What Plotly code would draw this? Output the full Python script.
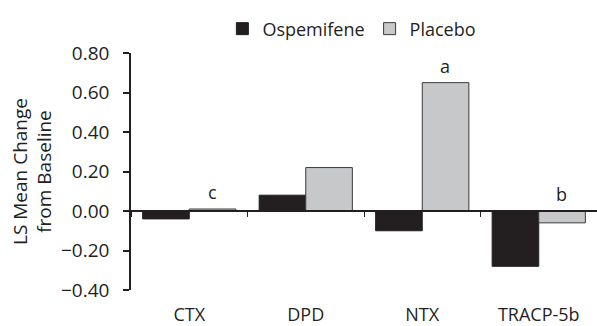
import plotly.graph_objects as go

categories = ["CTX", "DPD", "NTX", "TRACP-5b"]
ospemifene = [-0.04, 0.08, -0.10, -0.28]
placebo = [0.01, 0.22, 0.65, -0.06]
sig_labels = ["c", "", "a", "b"]
y_ticks = [-0.4, -0.2, 0.0, 0.2, 0.4, 0.6, 0.8]

FONT = "Open Sans"
INK = "#231f20"

fig = go.Figure()
fig.add_trace(go.Bar(x=categories, y=ospemifene, name="Ospemifene",
                     marker=dict(color=INK, line=dict(color=INK, width=1))))
fig.add_trace(go.Bar(x=categories, y=placebo, name="Placebo",
                     marker=dict(color="#c7c8ca", line=dict(color="#3a3a3a", width=1))))

for cat, lab, v in zip(categories, sig_labels, placebo):
    if lab:
        fig.add_annotation(x=cat, y=max(v, 0), text=lab, showarrow=False,
                           xshift=23, yanchor="bottom", yshift=3,
                           font=dict(family=FONT, size=18, color=INK))

fig.update_layout(
    width=597, height=326,
    margin=dict(l=131, r=0, t=53, b=36, autoexpand=False),
    paper_bgcolor="white", plot_bgcolor="white",
    barmode="group", bargap=0.2, bargroupgap=0,
    font=dict(family=FONT, size=18, color=INK),
    showlegend=True,
    legend=dict(orientation="h", x=0.474, xanchor="center", xref="paper",
                y=0.968, yanchor="top", yref="container",
                font=dict(family=FONT, size=18), itemwidth=30,
                traceorder="normal"),
)

fig.update_yaxes(range=[-0.4, 0.8], tickvals=y_ticks, tickformat=".2f",
                 showline=True, linecolor=INK, linewidth=1.5,
                 ticks="outside", ticklen=6, tickcolor=INK, tickwidth=1.5,
                 ticklabelstandoff=10, automargin=False,
                 showgrid=False, zeroline=False,
                 title=dict(text="LS Mean Change<br>from Baseline",
                            font=dict(family=FONT, size=19), standoff=4),
                 tickfont=dict(family=FONT, size=19))
fig.update_xaxes(anchor="free", position=1/3,
                 showline=True, linecolor=INK, linewidth=1.5,
                 ticks="outside", tickson="boundaries", ticklen=5,
                 tickcolor=INK, tickwidth=1,
                 ticklabelstandoff=88, automargin=False,
                 showgrid=False, zeroline=False,
                 tickfont=dict(family=FONT, size=18))

fig.write_html("out.html", config={"displayModeBar": False},
               post_script="document.body.style.margin='0';")
